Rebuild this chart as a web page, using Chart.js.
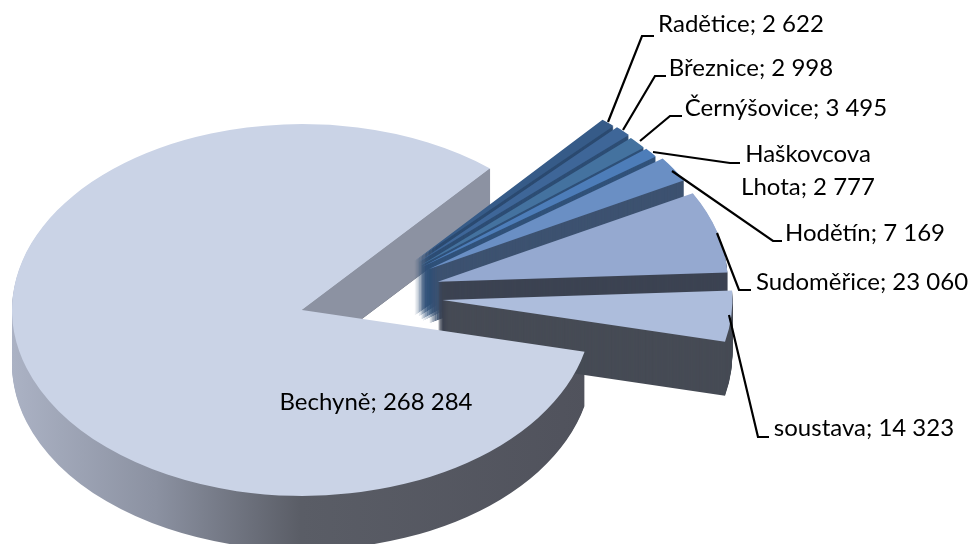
<!DOCTYPE html>
<html>
<head>
<meta charset="utf-8">
<script src="https://cdn.jsdelivr.net/npm/chart.js@4"></script>
<style>
html, body { margin: 0; padding: 0; background: #fff; }
#wrap { width: 972px; height: 544px; }
</style>
</head>
<body>
<div id="wrap"><canvas id="pie"></canvas></div>
<script>
// data
var names = ['Bechyně', 'Radětice', 'Březnice', 'Černýšovice', 'Haškovcova Lhota', 'Hodětín', 'Sudoměřice', 'soustava'];
var values = [268284, 2622, 2998, 3495, 2777, 7169, 23060, 14323];

// colours
var topColors = ['#cad3e6', '#365b88', '#3e6698', '#44729f', '#4d7db9', '#6a8fc4', '#95a9d0', '#adbddc'];
var wallColors = [null, '#2b4a70', '#2d4d74', '#2f5078', '#31527a', '#3d5270', '#3c4352', '#464b55'];

// 3D look: squash, height and how far the slices are pulled out
var centerX = 302, centerY = 310;
var radiusX = 290, squash = 0.641, depth = 54, explode = 140;
// small corrections per slice for the perspective of the original
var nudgeX = [0, 19, 17, 13, 10, 9, 1, 1];
var nudgeY = [0, 18, 16, 15, 12, 7, -4, -18];

// label anchors (centre x, baseline y), same order as names
var labelX = [376, 741, 751, 786, 808, 865, 862, 864];
var labelY = [410, 32, 76, 116, 162, 241, 290, 436];
var lineGap = 33;

// leader lines, same order as names
var leaders = [
    null,
    [[608, 122], [642, 36], [654, 36]],
    [[623, 130], [655, 76], [666, 76]],
    [[640, 141], [670, 116], [682, 116]],
    [[653, 152], [730, 163], [740, 163]],
    [[672, 171], [773, 241], [782, 241]],
    [[717, 233], [739, 290], [751, 290]],
    [[729, 315], [758, 437], [769, 437]]
];

function formatValue(v) {
    return String(v).replace(/\B(?=(\d{3})+$)/g, ' ');
}

// zet de context op de plek van een taartpunt
function placeSlice(ctx, arc, i, layer) {
    var mid = (arc.startAngle + arc.endAngle) / 2;
    var pull = i === 0 ? 0 : explode;
    ctx.translate(nudgeX[i], nudgeY[i] + layer);
    ctx.translate(centerX, centerY);
    ctx.scale(1, squash);
    ctx.translate(-centerX, -centerY);
    ctx.translate(Math.cos(mid) * pull, Math.sin(mid) * pull);
}

function drawArcWith(ctx, arc, color) {
    var saved = arc.options;
    arc.options = Object.create(saved);
    arc.options.backgroundColor = color;
    arc.draw(ctx);
    arc.options = saved;
}

function drawWall(ctx, arc, i, color) {
    for (var layer = depth; layer > 0; layer--) {
        ctx.save();
        placeSlice(ctx, arc, i, layer);
        drawArcWith(ctx, arc, color);
        ctx.restore();
    }
}

function drawTop(ctx, arc, i) {
    ctx.save();
    placeSlice(ctx, arc, i, 0);
    drawArcWith(ctx, arc, topColors[i]);
    ctx.restore();
}

var pie3d = {
    id: 'pie3d',
    beforeDatasetsDraw: function (chart) {
        var ctx = chart.ctx;
        var arcs = chart.getDatasetMeta(0).data;

        // muur van het grote stuk
        var grad = ctx.createLinearGradient(12, 0, 590, 0);
        grad.addColorStop(0, '#abb2c4');
        grad.addColorStop(0.25, '#8b91a1');
        grad.addColorStop(0.5, '#5a5d66');
        grad.addColorStop(1, '#50525c');
        drawWall(ctx, arcs[0], 0, grad);

        // snijvlak van het grote stuk
        var a = arcs[0];
        var ex = a.x + Math.cos(a.endAngle) * a.outerRadius;
        var ey = a.y + Math.sin(a.endAngle) * a.outerRadius * squash;
        ctx.fillStyle = '#8c92a2';
        ctx.beginPath();
        ctx.moveTo(a.x, a.y);
        ctx.lineTo(ex, ey);
        ctx.lineTo(ex, ey + depth);
        ctx.lineTo(a.x, a.y + depth);
        ctx.closePath();
        ctx.fill();

        // losse stukken, van achter naar voor
        for (var i = 1; i < arcs.length; i++) {
            drawWall(ctx, arcs[i], i, wallColors[i]);
            drawTop(ctx, arcs[i], i);
        }
        drawTop(ctx, arcs[0], 0);
        return false;
    },
    afterDraw: function (chart) {
        var ctx = chart.ctx;
        ctx.save();
        ctx.strokeStyle = '#000';
        ctx.lineWidth = 2.2;
        leaders.forEach(function (path) {
            if (!path) return;
            ctx.beginPath();
            path.forEach(function (p, k) {
                if (k === 0) ctx.moveTo(p[0], p[1]);
                else ctx.lineTo(p[0], p[1]);
            });
            ctx.stroke();
        });

        ctx.fillStyle = '#000';
        ctx.font = '24px Lato';
        ctx.textAlign = 'center';
        ctx.textBaseline = 'alphabetic';
        names.forEach(function (name, i) {
            var text = name + '; ' + formatValue(values[i]);
            if (name.indexOf(' ') > 0) {
                var cut = name.indexOf(' ');
                ctx.fillText(text.slice(0, cut), labelX[i], labelY[i]);
                ctx.fillText(text.slice(cut + 1), labelX[i], labelY[i] + lineGap);
            } else {
                ctx.fillText(text, labelX[i], labelY[i]);
            }
        });
        ctx.restore();
    }
};

new Chart(document.getElementById('pie').getContext('2d'), {
    type: 'pie',
    data: {
        labels: names,
        datasets: [{ data: values, backgroundColor: topColors, borderWidth: 0 }]
    },
    options: {
        responsive: true,
        maintainAspectRatio: false,
        animation: false,
        rotation: 103,
        radius: radiusX,
        // chartArea zo kiezen dat het midden op centerX/centerY valt
        layout: { padding: { left: 0, right: 972 - 2 * centerX, top: 2 * centerY - 544, bottom: 0 } },
        plugins: { legend: { display: false }, tooltip: { enabled: false } }
    },
    plugins: [pie3d]
});
</script>
</body>
</html>
